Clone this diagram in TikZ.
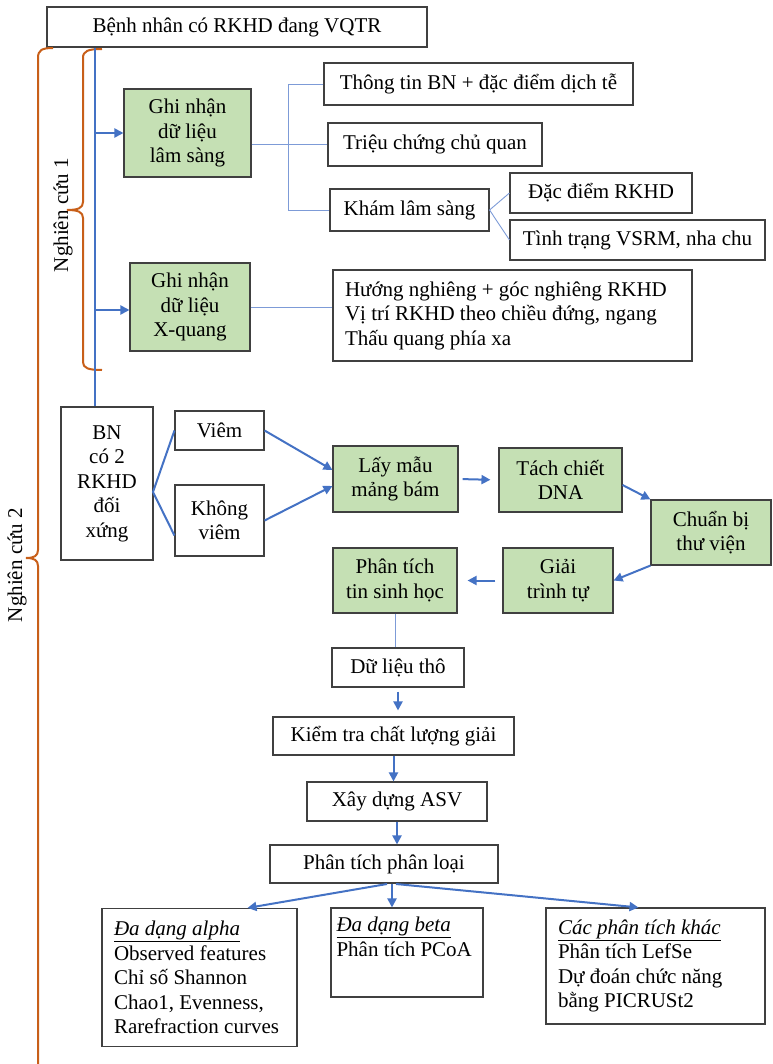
\documentclass[tikz,border=0pt]{standalone}
\usepackage{fontspec}
\setmainfont{Liberation Serif}
\usetikzlibrary{arrows.meta,calc}
\definecolor{gbfill}{RGB}{197,224,180}
\definecolor{lineblue}{RGB}{68,114,196}
\definecolor{thinblue}{RGB}{125,155,215}
\definecolor{braceor}{RGB}{200,95,25}
\definecolor{boxedge}{RGB}{64,64,64}
\begin{document}
\begin{tikzpicture}[x=1pt,y=-1pt,font=\fontsize{21}{24.5}\selectfont,
    box/.style={draw=boxedge,line width=1.1pt,fill=white,inner sep=0pt,align=center},
    gbox/.style={box,fill=gbfill},
    wh/.style 2 args={minimum width=#1pt,minimum height=#2pt},
    arr/.style={draw=lineblue,line width=2pt,-{Triangle[length=9pt,width=9pt]}},
    bline/.style={draw=lineblue,line width=2pt},
    tline/.style={draw=thinblue,line width=0.9pt},
    brc/.style={draw=braceor,line width=2pt}]
    \useasboundingbox (0,0) rectangle (772,1064);
    \node[box,wh={380}{40}] (top) at (237,27) {Bệnh nhân có RKHD đang VQTR};
    \node[gbox,wh={127}{88}] (gn1) at (187.5,133) {Ghi nhận\\dữ liệu\\lâm sàng};
    \node[gbox,wh={120}{88}] (gn2) at (190,307) {Ghi nhận\\dữ liệu\\X-quang};
    \node[box,wh={309}{42}] (tt) at (478.5,84) {Thông tin BN + đặc điểm dịch tễ};
    \node[box,wh={214}{43}] (tc) at (435,144.5) {Triệu chứng chủ quan};
    \node[box,wh={159}{42}] (kham) at (409.5,210) {Khám lâm sàng};
    \node[box,wh={182}{40}] (dd) at (601,193) {Đặc điểm RKHD};
    \node[box,wh={255}{40}] (vsrm) at (637.5,240) {Tình trạng VSRM, nha chu};
    \node[box,wh={359}{91},text width=335pt,inner xsep=12pt,align=flush left] (xq) at (512.5,315.5)
        {Hướng nghiêng + góc nghiêng RKHD\\Vị trí RKHD theo chiều đứng, ngang\\Thấu quang phía xa};
    \node[box,wh={92}{153}] (bn) at (107,483.5) {BN\\có 2\\RKHD\\đối\\xứng};
    \node[box,wh={89}{39}] (viem) at (219.5,430.5) {Viêm};
    \node[box,wh={89}{71}] (kviem) at (219.5,520.5) {Không\\viêm};
    \node[gbox,wh={125}{66}] (lm) at (395.5,479) {Lấy mẫu\\mảng bám};
    \node[gbox,wh={123}{64}] (tach) at (560.5,480) {Tách chiết\\DNA};
    \node[gbox,wh={120}{65}] (cb) at (711,532.5) {Chuẩn bị\\thư viện};
    \node[gbox,wh={110}{65}] (gtt) at (558,580.5) {Giải\\trình tự};
    \node[gbox,wh={124}{65}] (pt) at (395,580.5) {Phân tích\\tin sinh học};
    \node[box,wh={132}{39}] (dlt) at (398,667.5) {Dữ liệu thô};
    \node[box,wh={241}{38}] (kt) at (393.5,736) {Kiểm tra chất lượng giải};
    \node[box,wh={180}{39}] (asv) at (397,801.5) {Xây dựng ASV};
    \node[box,wh={228}{38}] (pl) at (384,864) {Phân tích phân loại};
    \node[box,wh={195}{138},text width=171pt,inner xsep=12pt,align=flush left] (alpha) at (199.5,977.5)
        {\underline{\textit{Đa dạng alpha}}\\Observed features\\Chỉ số Shannon\\Chao1, Evenness,\\Rarefraction curves};
    \node[box,wh={152}{89},text width=141pt,inner xsep=5.5pt,align=flush left] (beta) at (407,952.5)
        {\underline{\textit{Đa dạng beta}}\\Phân tích PCoA\\\strut};
    \node[box,wh={219}{116},text width=195pt,inner xsep=12pt,align=flush left] (other) at (655.5,966)
        {\underline{\textit{Các phân tích khác}}\\Phân tích LefSe\\Dự đoán chức năng\\bằng PICRUSt2};
    \node[rotate=90] (nc1) at (63,215) {Nghiên cứu 1};
    \node[rotate=90] (nc2) at (17,565) {Nghiên cứu 2};
    \coordinate (spine) at (95,0);
    \coordinate (hub) at (288,0);
    \coordinate (fork) at (153,492);
    \coordinate (plout) at (392,884);
    % braces
    \draw[brc] (53,48) .. controls (42,48) and (38,50) .. (38,58) -- (38,550)
        .. controls (38,556) and (34,558) .. (26,558) .. controls (34,558) and (38,560) .. (38,566) -- (38,1064);
    \draw[brc] (102,49) .. controls (88,49) and (83,51) .. (83,58) -- (83,202)
        .. controls (83,208) and (78,210) .. (67,210) .. controls (78,210) and (83,212) .. (83,218) -- (83,362)
        .. controls (83,368) and (88,370) .. (102,370);
    % study 1
    \draw[bline] (top.south -| spine) -- (bn.north -| spine);
    \draw[arr] (gn1.west -| spine) -- (gn1.west);
    \draw[arr] ($(gn2.west -| spine)+(0,3)$) -- ($(gn2.west)+(0,3)$);
    \draw[tline] (tt.west) -| (hub |- kham.west) -- (kham.west);
    \draw[tline] (gn1.east |- tc.west) -- (tc.west);
    \draw[tline] (kham.east) -- (dd.west);
    \draw[tline] (kham.east) -- (vsrm.west);
    \draw[tline] (gn2.east) -- (gn2.east -| xq.west);
    % study 2
    \draw[bline] (viem.west) -- (fork) -- ($(kviem.west)+(0,15)$);
    \draw[arr] (viem.east) -- ($(lm.west)+(0,-9)$);
    \draw[arr] (kviem.east) -- ($(lm.west)+(0,7)$);
    \draw[arr,shorten <=4pt,shorten >=8pt] (lm.east) -- (tach.west);
    \draw[arr] ($(tach.east)+(0,5)$) -- (cb.north west);
    \draw[arr] (cb.south west) -- (gtt.east);
    \draw[arr,shorten <=7pt,shorten >=10pt] (gtt.west) -- (pt.east);
    \draw[tline] (pt.south) -- (pt.south |- dlt.north);
    \draw[arr,shorten <=4pt,shorten >=6pt] (dlt.south) -- (dlt.south |- kt.north);
    \draw[arr] (kt.south) -- (kt.south |- asv.north);
    \draw[arr] (asv.south) -- (asv.south |- pl.north);
    \draw[arr] ($(plout)+(-5,0)$) -- ($(alpha.north)+(48,0)$);
    \draw[arr] (plout) -- (plout |- beta.north);
    \draw[arr] ($(plout)+(4,0)$) -- ($(other.north)+(-17,0)$);
\end{tikzpicture}
\end{document}
